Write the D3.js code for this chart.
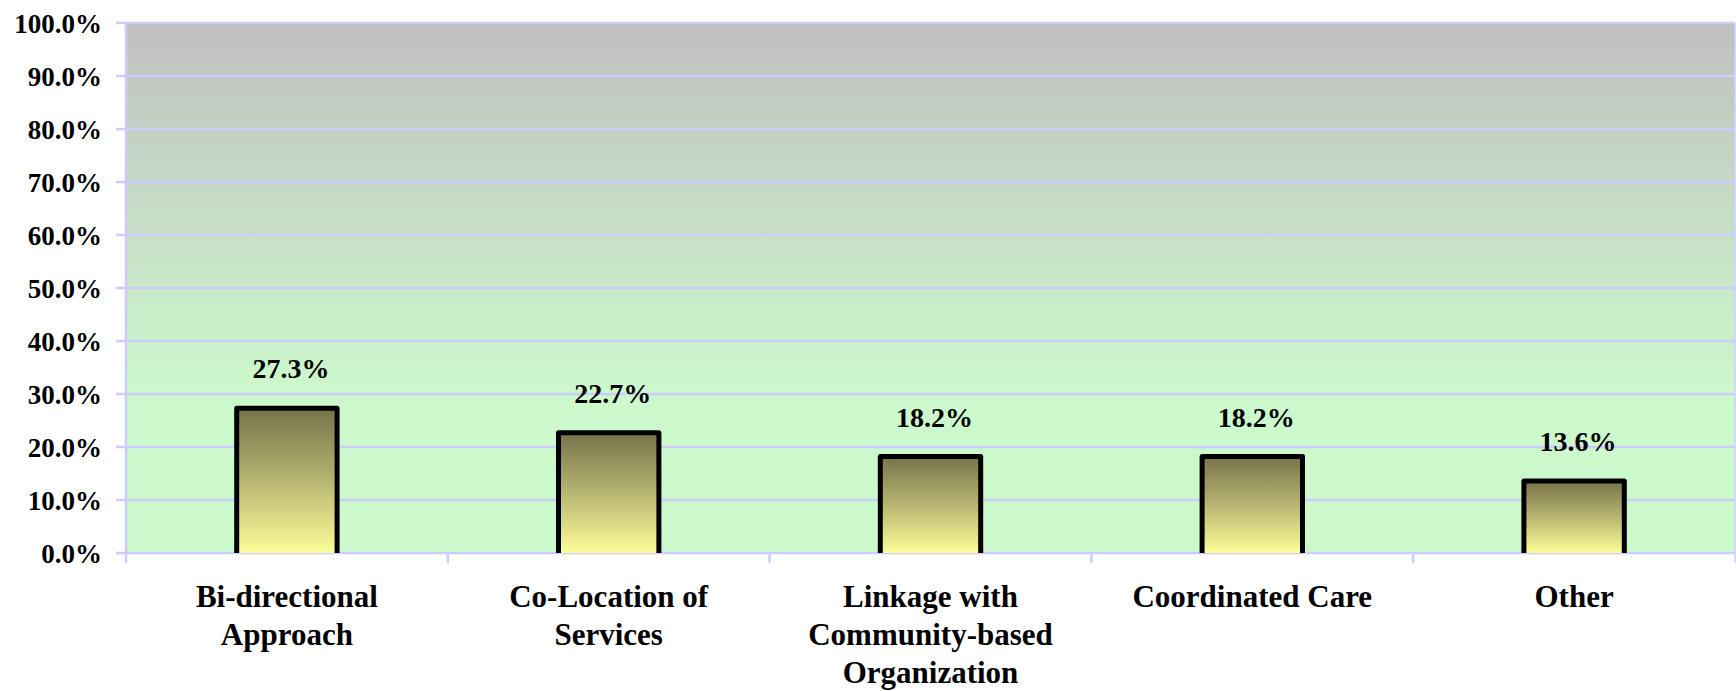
<!DOCTYPE html>
<meta charset="utf-8">
<style>
body { margin: 0; background: #fff; }
text { font-family: "Liberation Serif", "DejaVu Serif", serif; font-weight: bold; fill: #000; }
.grid line { stroke: #ccccff; stroke-width: 2.5px; }
</style>
<body></body>
<script src="https://d3js.org/d3.v7.min.js"></script>
<script>

var categories = ["Bi-directional Approach", "Co-Location of Services", "Linkage with Community-based Organization", "Coordinated Care", "Other"];
var labelLines = [["Bi-directional", "Approach"], ["Co-Location of", "Services"], ["Linkage with", "Community-based", "Organization"], ["Coordinated Care"], ["Other"]];
var values = [27.3, 22.7, 18.2, 18.2, 13.6];
var yTicks = [0, 10, 20, 30, 40, 50, 60, 70, 80, 90, 100];

var width = 1736,
    height = 691,
    pLeft = 126, pRight = 1735, pTop = 23, pBottom = 553;

var svg = d3.select("body").append("svg")
    .attr("width", width)
    .attr("height", height);

var defs = svg.append("defs");
var bg = defs.append("linearGradient").attr("id", "bg")
    .attr("x1", 0).attr("y1", 0).attr("x2", 0).attr("y2", 1);
bg.append("stop").attr("offset", "0%").attr("stop-color", "#c0c0c0");
bg.append("stop").attr("offset", "70%").attr("stop-color", "#ccf9cc");
bg.append("stop").attr("offset", "100%").attr("stop-color", "#ccfacc");

var bar = defs.append("linearGradient").attr("id", "bar")
    .attr("x1", 0).attr("y1", 0).attr("x2", 0).attr("y2", 1);
bar.append("stop").attr("offset", "0%").attr("stop-color", "#77734a");
bar.append("stop").attr("offset", "45%").attr("stop-color", "#b0ae6e");
bar.append("stop").attr("offset", "100%").attr("stop-color", "#fdfd98");

var x = d3.scaleBand()
    .domain(categories)
    .range([pLeft, pRight])
    .paddingInner(0).paddingOuter(0);

var y = d3.scaleLinear()
    .domain([0, 100])
    .range([pBottom, pTop]);

svg.append("rect")
    .attr("x", pLeft).attr("y", pTop)
    .attr("width", pRight - pLeft).attr("height", pBottom - pTop)
    .attr("fill", "url(#bg)");

// gridlines + left ticks
svg.append("g").attr("class", "grid")
  .selectAll("line")
  .data(yTicks)
  .enter().append("line")
    .attr("x1", pLeft - 10)
    .attr("x2", pRight)
    .attr("y1", function(d) { return y(d); })
    .attr("y2", function(d) { return y(d); });

var axisLines = svg.append("g").attr("class", "grid");
axisLines.append("line")
    .attr("x1", pLeft).attr("x2", pLeft)
    .attr("y1", pTop).attr("y2", pBottom + 10);
axisLines.append("line")
    .attr("x1", pRight).attr("x2", pRight)
    .attr("y1", pTop).attr("y2", pBottom + 10)
    .style("stroke-width", "1.5px");
axisLines.selectAll(".xt")
  .data(categories.slice(1))
  .enter().append("line")
    .attr("x1", function(d) { return x(d); })
    .attr("x2", function(d) { return x(d); })
    .attr("y1", pBottom).attr("y2", pBottom + 10);

// y tick labels
svg.append("g")
  .selectAll("text")
  .data(yTicks)
  .enter().append("text")
    .attr("x", pLeft - 24)
    .attr("y", function(d) { return y(d) + 10; })
    .attr("text-anchor", "end")
    .style("font-size", "27px")
    .text(function(d) { return d3.format(".1f")(d) + "%"; });

// bars: fill, then outline open at the bottom
var bw = x.bandwidth() * 0.312;
function bx(i) { return x(categories[i]) + x.bandwidth() / 2 - bw / 2; }
var bars = svg.append("g");
bars.selectAll("rect")
  .data(values)
  .enter().append("rect")
    .attr("x", function(d, i) { return bx(i); })
    .attr("y", function(d) { return y(d); })
    .attr("width", bw)
    .attr("height", function(d) { return pBottom - y(d); })
    .attr("fill", "url(#bar)");
bars.selectAll("path")
  .data(values)
  .enter().append("path")
    .attr("d", function(d, i) {
      var p = d3.path();
      p.moveTo(bx(i), pBottom);
      p.lineTo(bx(i), y(d));
      p.lineTo(bx(i) + bw, y(d));
      p.lineTo(bx(i) + bw, pBottom);
      return p.toString();
    })
    .attr("fill", "none")
    .attr("stroke", "#000")
    .attr("stroke-width", 5)
    .attr("stroke-linejoin", "round");

// value labels
svg.append("g")
  .selectAll("text")
  .data(values)
  .enter().append("text")
    .attr("x", function(d, i) { return x(categories[i]) + x.bandwidth() / 2 + 4; })
    .attr("y", function(d) { return y(d) - 30; })
    .attr("text-anchor", "middle")
    .style("font-size", "28px")
    .text(function(d) { return d.toFixed(1) + "%"; });

// category labels
var cat = svg.append("g")
  .selectAll("text")
  .data(categories)
  .enter().append("text")
    .attr("text-anchor", "middle")
    .style("font-size", "31px");
cat.each(function(d, i) {
  var t = d3.select(this);
  labelLines[i].forEach(function(line, j) {
    t.append("tspan")
      .attr("x", x(d) + x.bandwidth() / 2)
      .attr("y", 607 + j * 38)
      .text(line);
  });
});

</script>
